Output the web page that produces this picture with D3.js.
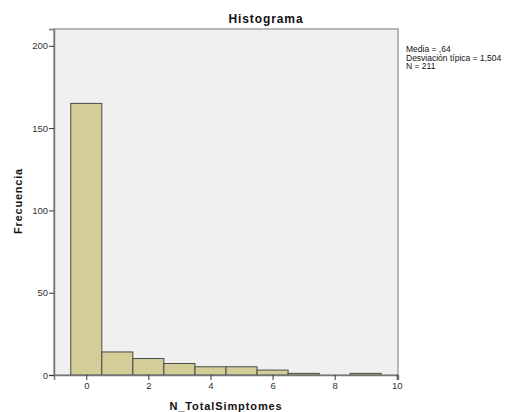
<!DOCTYPE html>
<html>
<head>
<meta charset="utf-8">
<script src="https://cdn.jsdelivr.net/npm/d3@7"></script>
<style>
body { margin: 0; background: #fff; }
text { font-family: "Liberation Sans", Arial, sans-serif; }
</style>
</head>
<body>
<script>
// bins of width 1 centred on each integer value
var binCenters = [0, 1, 2, 3, 4, 5, 6, 7, 8, 9];
var counts = [165, 14, 10, 7, 5, 5, 3, 1, 0, 1];
var xTicks = [0, 2, 4, 6, 8, 10];
var yTicks = [0, 50, 100, 150, 200];
var statsLines = ["Media = ,64", "Desviación típica = 1,504", "N = 211"];

var width = 507, height = 412;
var plotLeft = 54, plotRight = 398, plotTop = 29, plotBottom = 375;

var svg = d3.select("body").append("svg")
    .attr("width", width).attr("height", height);

var x = d3.scaleLinear().domain([-1.04, 10.04]).range([plotLeft, plotRight]);
var y = d3.scaleLinear().domain([0, 210.2]).range([plotBottom, plotTop]);

svg.append("rect")
    .attr("x", plotLeft).attr("y", plotTop)
    .attr("width", plotRight - plotLeft).attr("height", plotBottom - plotTop)
    .attr("fill", "#f0f0f0")
    .attr("stroke", "#8c8c8c").attr("stroke-width", 1.2);

svg.selectAll("rect.bar")
    .data(binCenters)
    .enter().append("rect")
    .attr("class", "bar")
    .attr("x", function (d) { return x(d - 0.5); })
    .attr("width", function (d) { return x(d + 0.5) - x(d - 0.5); })
    .attr("y", function (d, i) { return y(counts[i]); })
    .attr("height", function (d, i) { return plotBottom - y(counts[i]); })
    .attr("fill", "#d3ce98")
    .attr("stroke", "#4a4a4a")
    .attr("stroke-width", 1);

var xAxis = svg.append("g")
    .attr("transform", "translate(0," + plotBottom + ")")
    .call(d3.axisBottom(x).tickValues(xTicks).tickSize(5).tickPadding(2));
var yAxis = svg.append("g")
    .attr("transform", "translate(" + plotLeft + ",0)")
    .call(d3.axisLeft(y).tickValues(yTicks).tickSize(5).tickPadding(1));

[xAxis, yAxis].forEach(function (g) {
    g.select(".domain").attr("stroke", "#777").attr("stroke-width", 1.5);
    g.selectAll(".tick line").attr("stroke", "#333");
    g.selectAll(".tick text")
        .attr("fill", "#333")
        .style("font-size", "9.5px")
        .style("font-family", "'Liberation Sans', Arial, sans-serif");
});

svg.append("text")
    .attr("x", 266).attr("y", 23)
    .attr("text-anchor", "middle")
    .style("font-size", "12px").style("font-weight", "bold")
    .style("letter-spacing", "0.9px")
    .attr("fill", "#111")
    .text("Histograma");

svg.append("text")
    .attr("x", 226).attr("y", 410)
    .attr("text-anchor", "middle")
    .style("font-size", "11px").style("font-weight", "bold")
    .style("letter-spacing", "0.9px")
    .attr("fill", "#111")
    .text("N_TotalSimptomes");

svg.append("text")
    .attr("transform", "translate(22,201) rotate(-90)")
    .attr("text-anchor", "middle")
    .style("font-size", "11px").style("font-weight", "bold")
    .style("letter-spacing", "0.8px")
    .attr("fill", "#111")
    .text("Frecuencia");

svg.selectAll("text.stat")
    .data(statsLines)
    .enter().append("text")
    .attr("class", "stat")
    .attr("x", 406)
    .attr("y", function (d, i) { return 52 + i * 8.5; })
    .style("font-size", "8.5px")
    .attr("fill", "#111")
    .text(function (d) { return d; });
</script>
</body>
</html>
